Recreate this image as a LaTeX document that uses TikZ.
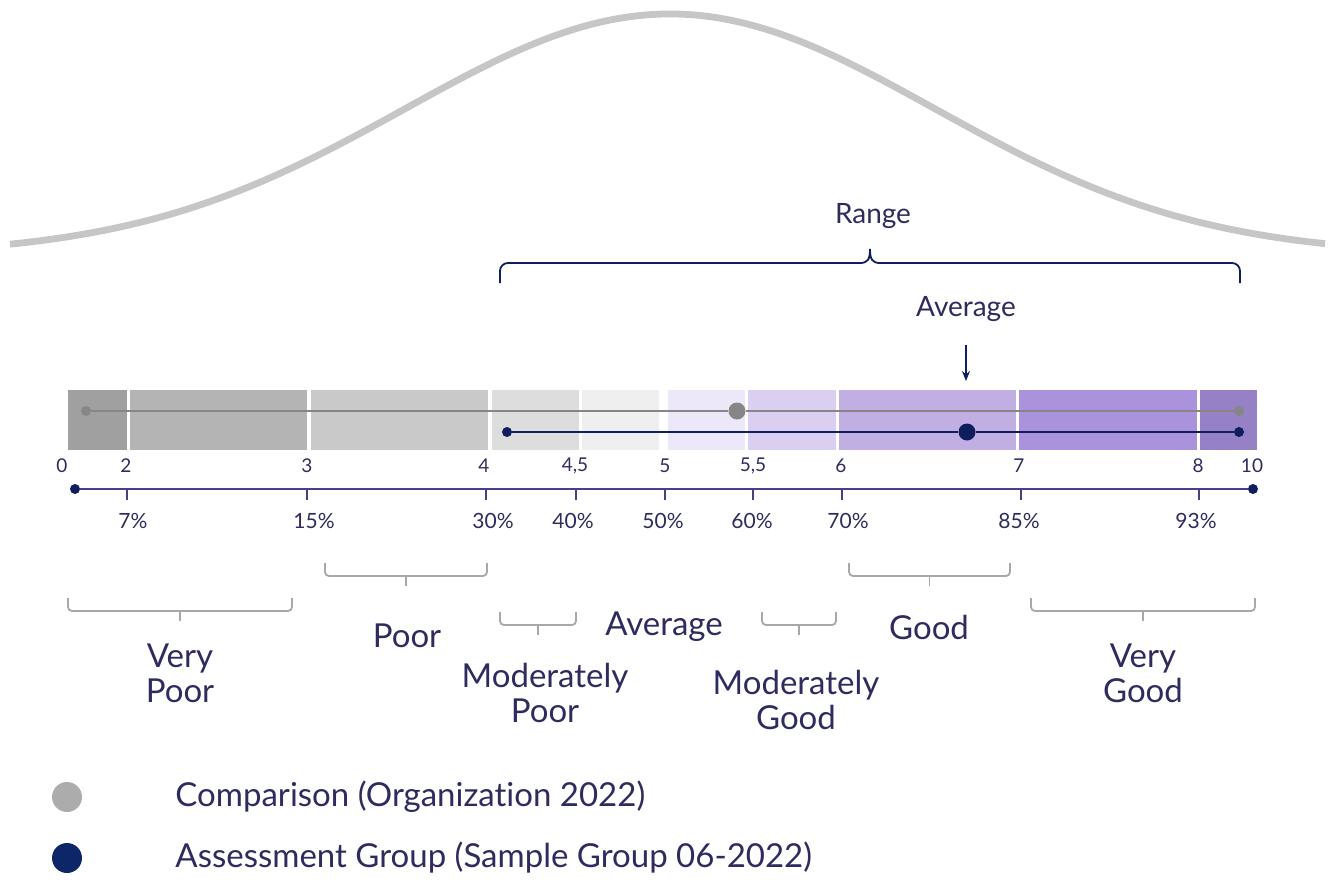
\documentclass[tikz,border=0pt]{standalone}
\usepackage{fontspec}
\setmainfont{Lato}[Ligatures=NoCommon]
\usetikzlibrary{positioning,arrows.meta}
\definecolor{ink}{RGB}{46,43,95}
\definecolor{axisc}{RGB}{72,64,132}
\definecolor{navy}{RGB}{14,30,94}
\definecolor{dotgrey}{RGB}{134,134,134}
\definecolor{bellc}{RGB}{198,198,198}
\definecolor{bracec}{RGB}{168,168,168}
\definecolor{legnavy}{RGB}{12,38,104}
\definecolor{leggrey}{RGB}{172,172,172}
% band shades, dark grey to violet
\definecolor{s1}{RGB}{160,160,160}
\definecolor{s2}{RGB}{180,180,180}
\definecolor{s3}{RGB}{201,201,201}
\definecolor{s4}{RGB}{221,221,221}
\definecolor{s5}{RGB}{239,239,239}
\definecolor{s6}{RGB}{236,232,249}
\definecolor{s7}{RGB}{218,207,240}
\definecolor{s8}{RGB}{193,175,228}
\definecolor{s9}{RGB}{171,146,220}
\definecolor{s10}{RGB}{150,129,199}

\begin{document}
\begin{tikzpicture}[x=0.5pt,y=-0.5pt,text=ink,
  num/.style={font=\fontsize{9.5}{11}\selectfont},
  pct/.style={font=\fontsize{10.5}{12}\selectfont},
  cat/.style={align=center,font=\fontsize{16.5}{17.5}\selectfont},
  title/.style={font=\fontsize{14}{16}\selectfont},
  dot/.style={circle,inner sep=0pt,minimum size=5pt},
  bigdot/.style={circle,inner sep=0pt,minimum size=8.5pt},
  legdot/.style={circle,inner sep=0pt,minimum size=15pt},
  brk/.style={bracec,line width=0.9pt,rounded corners=2pt},
  arr/.style={-{Stealth[length=5pt,width=4pt]},navy,line width=0.8pt}]
\useasboundingbox (0,0) rectangle (1329,885);

% bell curve
\draw[bellc,line width=3.4pt] plot[domain=10:1325,samples=120,smooth]
  (\x,{255-241*exp(-0.5*((\x-670)/265)^2)});

% range brace
\node[title] (range) at (873,216) {Range};
\coordinate (rl) at (500,283);
\coordinate (rr) at (1240,283);
\draw[navy,line width=0.9pt,rounded corners=4pt] (rl) -- (500,263) -- (860,263);
\draw[navy,line width=0.9pt] (860,263) .. controls (868,263) and (870,259) .. (870,249)
  .. controls (870,259) and (872,263) .. (880,263);
\draw[navy,line width=0.9pt,rounded corners=4pt] (880,263) -- (1240,263) -- (rr);

% average marker
\node[title] (avg) at (966,309) {Average};
\coordinate (avgtip) at (966,381);
\draw[arr,shorten <=8pt] (avg) -- (avgtip);

% score bands
\foreach \a/\b/\c in {68/127/s1,130/307/s2,311/488/s3,492/579/s4,582/659/s5,
    668/745/s6,748/836/s7,839/1016/s8,1019/1197/s9,1200/1257/s10}
  \fill[\c] (\a,390) rectangle (\b,450);

% comparison line
\node[dot,fill=dotgrey] (c0) at (86,411) {};
\node[bigdot,fill=dotgrey] (cm) at (737,411) {};
\node[dot,fill=dotgrey] (c1) at (1239,411) {};
\draw[dotgrey,line width=0.8pt] (c0) -- (cm) -- (c1);

% assessment line
\node[dot,fill=navy] (g0) at (507,432) {};
\node[bigdot,fill=navy] (gm) at (967,432) {};
\node[dot,fill=navy] (g1) at (1239,432) {};
\draw[navy,line width=0.8pt] (g0) -- (gm) -- (g1);

% scale values
\foreach \x/\t [count=\i] in {62/0,126/2,307/3,484/4,575/{4,5},665/5,753/{5,5},
    841/6,1019/7,1198/8,1252/10}
  \node[num] (n\i) at (\x,466) {\t};

% percentile axis
\node[dot,fill=navy] (a0) at (75,489) {};
\node[dot,fill=navy] (a1) at (1253,489) {};
\draw[axisc,line width=0.8pt] (a0) -- (a1);
\foreach \x/\lx/\p [count=\i] in {127/133/7,307/314/15,486/493/30,576/573/40,
    665/663/50,753/752/60,842/848/70,1021/1019/85,1199/1196/93} {
  \coordinate (t\i) at (\x,489);
  \draw[axisc,line width=0.8pt] (t\i) -- ++(0,11);
  \node[pct] (p\i) at (\lx,521) {\p\%};
}

% category brackets
\foreach \a/\b/\y in {68/292/598,325/487/563,500/576/612,762/836/612,
    849/1010/563,1031/1255/598} {
  \draw[brk] (\a,\y) -- (\a,\y+13) -- (\b,\y+13) -- (\b,\y);
  \draw[brk] ({(\a+\b)/2},\y+13) -- ++(0,10);
}
\node[cat] (vpoor) at (180,673) {Very\\Poor};
\node[cat] (poor) at (407,636) {Poor};
\node[cat] (mpoor) at (545,693) {Moderately\\Poor};
\node[cat] (average) at (664,627) {Average};
\node[cat] (mgood) at (796,700) {Moderately\\Good};
\node[cat] (good) at (929,627) {Good};
\node[cat] (vgood) at (1143,673) {Very\\Good};

% legend
\node[legdot,fill=leggrey] (leg1) at (67,797) {};
\node[legdot,fill=legnavy] (leg2) at (67,858) {};
\node[cat,right=43pt of leg1] (legt1) {Comparison (Organization 2022)};
\node[cat,right=43pt of leg2] (legt2) {Assessment Group (Sample Group 06-2022)};
\end{tikzpicture}
\end{document}
